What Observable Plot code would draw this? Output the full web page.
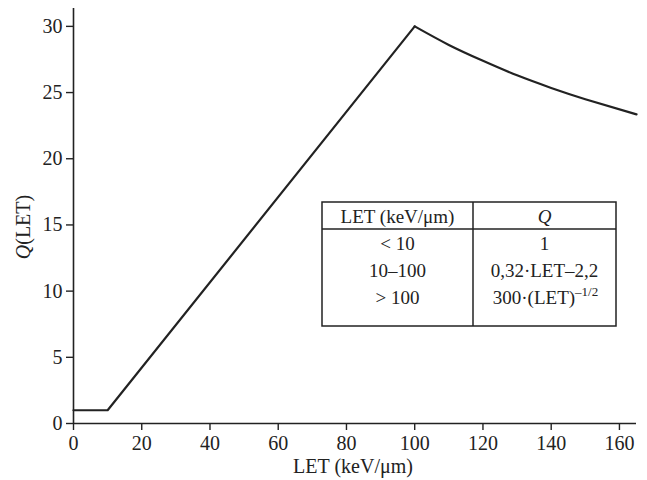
<!DOCTYPE html>
<html>
<head>
<meta charset="utf-8">
<script src="https://cdn.jsdelivr.net/npm/d3@7"></script>
<script src="https://cdn.jsdelivr.net/npm/@observablehq/plot@0.6"></script>
<style>
  body { margin: 0; background: #fff; }
  #wrap { position: relative; width: 647px; height: 480px; }
  #wrap svg, #wrap svg text { font-family: 'Liberation Serif', 'Times New Roman', serif !important; }
</style>
</head>
<body>
<div id="wrap"></div>
<script>
// Data
const letLinear = [0, 10, 100];
const qLinear   = [1, 1, 30];
const letDecay  = [100, 110, 120, 130, 140, 150, 165];
const qDecay    = [30, 28.6, 27.4, 26.3, 25.35, 24.5, 23.35];
const xTicks = [0, 20, 40, 60, 80, 100, 120, 140, 160];
const yTicks = [0, 5, 10, 15, 20, 25, 30];
const tableHeader = ["LET (keV/\u03bcm)", "Q"];
const tableLet = ["< 10", "10\u2013100", "> 100"];
const tableQ = ["1", "0,32\u00b7LET\u20132,2", "300\u00b7(LET)"];
const tableQSup = ["", "", "\u20131/2"];

const linData = letLinear.map((x, i) => ({x, y: qLinear[i]}));
const decData = letDecay.map((x, i) => ({x, y: qDecay[i]}));
const FONT = "'Liberation Serif', 'Times New Roman', serif";
const INK = "#222";

const chart = Plot.plot({
  width: 647,
  height: 480,
  marginLeft: 73,
  marginRight: 11,
  marginTop: 8,
  marginBottom: 57,
  style: { fontFamily: FONT, fontSize: "20px", color: INK, background: "#fff" },
  x: { domain: [0, 165] },
  y: { domain: [0, 31.35] },
  marks: [
    Plot.ruleX([0], { stroke: INK, strokeWidth: 1.6 }),
    Plot.ruleY([0], { stroke: INK, strokeWidth: 1.6 }),
    Plot.axisX({ ticks: xTicks, tickSize: 7, tickPadding: 5, tickFormat: d => String(d), label: null, fontSize: 20, stroke: INK, strokeWidth: 1.4 }),
    Plot.axisY({ ticks: yTicks, tickSize: 7, tickPadding: 4, tickFormat: d => String(d), label: null, fontSize: 20, stroke: INK, strokeWidth: 1.4 }),
    Plot.line(linData, { x: "x", y: "y", stroke: INK, strokeWidth: 2.2 }),
    Plot.line(decData, { x: "x", y: "y", stroke: INK, strokeWidth: 2.2, curve: "natural" })
  ]
});

const svg = d3.select(chart);
// axis titles
svg.append("text")
  .attr("x", 353).attr("y", 473)
  .attr("text-anchor", "middle")
  .attr("font-size", 20).attr("fill", INK)
  .text("LET (keV/\u03bcm)");
const yl = svg.append("text")
  .attr("transform", "translate(30,227) rotate(-90)")
  .attr("text-anchor", "middle")
  .attr("font-size", 20).attr("fill", INK);
yl.append("tspan").attr("font-style", "italic").text("Q");
yl.append("tspan").text("(LET)");

// inset table
const T = { left: 322, right: 616, top: 202, bottom: 326, divider: 473, header: 229 };
const g = svg.append("g").attr("fill", INK).attr("font-size", 19);
g.append("rect")
  .attr("x", T.left).attr("y", T.top)
  .attr("width", T.right - T.left).attr("height", T.bottom - T.top)
  .attr("fill", "#fff").attr("stroke", INK).attr("stroke-width", 1.5);
g.append("line").attr("x1", T.divider).attr("x2", T.divider).attr("y1", T.top).attr("y2", T.bottom)
  .attr("stroke", INK).attr("stroke-width", 1.5);
g.append("line").attr("x1", T.left).attr("x2", T.right).attr("y1", T.header).attr("y2", T.header)
  .attr("stroke", INK).attr("stroke-width", 1.5);
const c1 = (T.left + T.divider) / 2, c2 = (T.divider + T.right) / 2;
g.append("text").attr("x", c1).attr("y", 223).attr("text-anchor", "middle").text(tableHeader[0]);
g.append("text").attr("x", c2).attr("y", 223).attr("text-anchor", "middle").attr("font-style", "italic").text(tableHeader[1]);
const rowY = [250, 277, 304];
tableLet.forEach((l, i) => {
  g.append("text").attr("x", c1).attr("y", rowY[i]).attr("text-anchor", "middle").text(l);
  const t = g.append("text").attr("x", c2 + (tableQSup[i] ? 1 : 0)).attr("y", rowY[i]).attr("text-anchor", "middle");
  t.append("tspan").text(tableQ[i]);
  if (tableQSup[i]) {
    t.append("tspan").attr("font-size", 13).attr("dy", -8).text(tableQSup[i]);
  }
});

document.getElementById("wrap").appendChild(chart);
</script>
</body>
</html>
